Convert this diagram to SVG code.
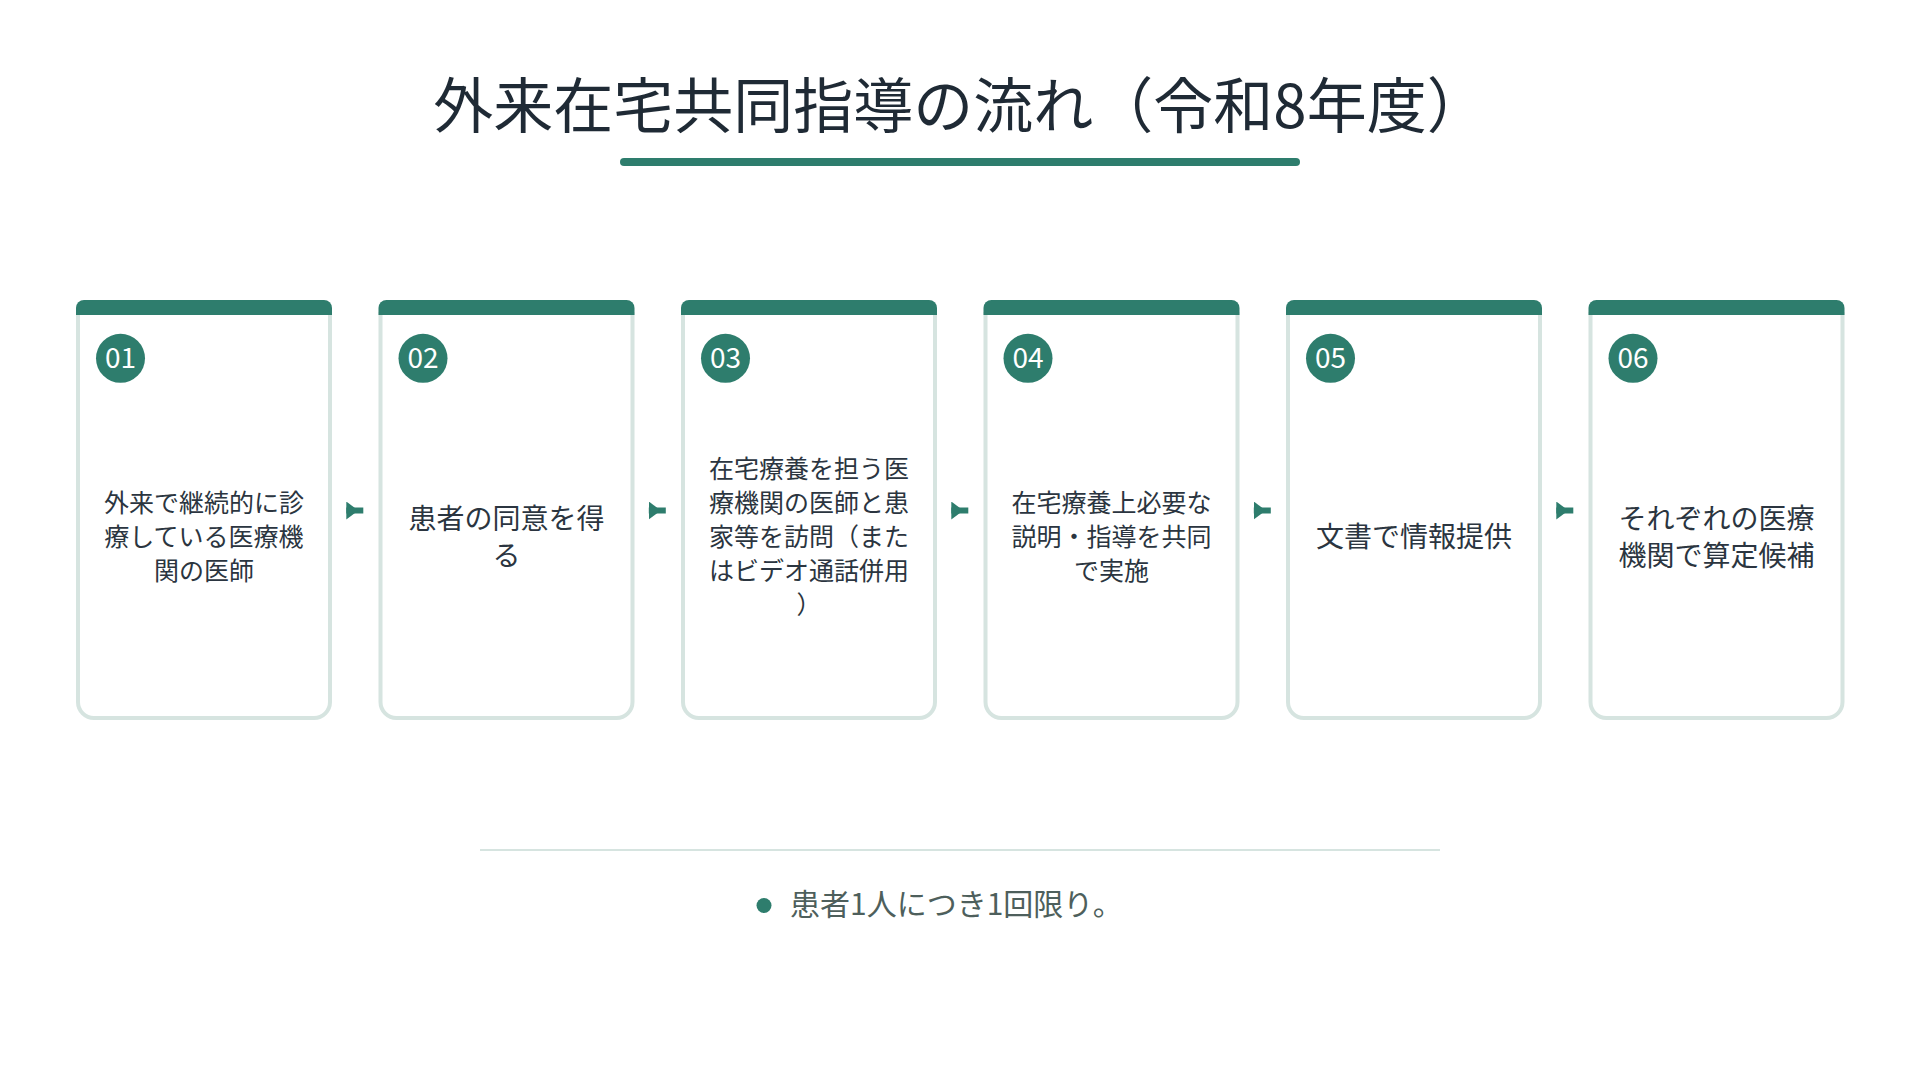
<svg xmlns="http://www.w3.org/2000/svg" width="1920" height="1080" viewBox="0 0 1920 1080">
<style>
  text { font-family: "Noto Sans CJK JP", "Noto Sans", sans-serif; }
  .title { font-size: 60px; fill: #1f2a35; text-anchor: middle; }
  .frame { fill: #ffffff; stroke: #d6e4e0; stroke-width: 4; }
  .bar { fill: #2e7d6d; }
  .badge { fill: #2e7d6d; }
  .num { font-size: 28px; fill: #ffffff; text-anchor: middle; }
  .body { font-size: 25px; fill: #2b3540; text-anchor: middle; }
  .bodyL { font-size: 28px; fill: #2b3540; text-anchor: middle; }
  .conn { stroke: #2e7d6d; stroke-width: 6; fill: none; }
  .note { font-size: 30px; fill: #4e5f5c; }
</style>
<defs>
  <marker id="tri" markerUnits="userSpaceOnUse" viewBox="0 0 12 18" refX="0" refY="9" markerWidth="12" markerHeight="18" orient="auto">
    <path d="M0,0 L12,9 L0,18 Z" fill="#2e7d6d"/>
  </marker>
  <g id="card">
    <path class="frame" d="M2,312 V702 A16,16 0 0 0 18,718 H238 A16,16 0 0 0 254,702 V312"/>
    <path class="bar" d="M0,315 V308 A8,8 0 0 1 8,300 H248 A8,8 0 0 1 256,308 V315 Z"/>
    <circle class="badge" cx="44.5" cy="358.3" r="24.5"/>
  </g>
</defs>
<rect width="1920" height="1080" fill="#ffffff"/>

<g id="title">
  <text class="title" x="960" y="128">外来在宅共同指導の流れ（令和8年度）</text>
  <rect x="620" y="158" width="680" height="8" rx="4" fill="#2e7d6d"/>
</g>

<g id="step-01" transform="translate(76,0)">
  <use href="#card"/>
  <text class="num" x="44.5" y="367.5">01</text>
  <text class="body" x="128" y="511.5">外来で継続的に診</text>
  <text class="body" x="128" y="545.5">療している医療機</text>
  <text class="body" x="128" y="579.5">関の医師</text>
</g>

<g id="step-02" transform="translate(378.5,0)">
  <use href="#card"/>
  <text class="num" x="44.5" y="367.5">02</text>
  <text class="bodyL" x="128" y="528.5">患者の同意を得</text>
  <text class="bodyL" x="128" y="566.3">る</text>
</g>

<g id="step-03" transform="translate(681,0)">
  <use href="#card"/>
  <text class="num" x="44.5" y="367.5">03</text>
  <text class="body" x="128" y="477.5">在宅療養を担う医</text>
  <text class="body" x="128" y="511.5">療機関の医師と患</text>
  <text class="body" x="128" y="545.5">家等を訪問（また</text>
  <text class="body" x="128" y="579.5">はビデオ通話併用</text>
  <text class="body" x="128" y="613.5">）</text>
</g>

<g id="step-04" transform="translate(983.5,0)">
  <use href="#card"/>
  <text class="num" x="44.5" y="367.5">04</text>
  <text class="body" x="128" y="511.5">在宅療養上必要な</text>
  <text class="body" x="128" y="545.5">説明・指導を共同</text>
  <text class="body" x="128" y="579.5">で実施</text>
</g>

<g id="step-05" transform="translate(1286,0)">
  <use href="#card"/>
  <text class="num" x="44.5" y="367.5">05</text>
  <text class="bodyL" x="128" y="547">文書で情報提供</text>
</g>

<g id="step-06" transform="translate(1588.5,0)">
  <use href="#card"/>
  <text class="num" x="44.5" y="367.5">06</text>
  <text class="bodyL" x="128" y="528.5">それぞれの医療</text>
  <text class="bodyL" x="128" y="566.3">機関で算定候補</text>
</g>

<g id="connectors">
  <path class="conn" marker-start="url(#tri)" d="M346.3,510.5 H363.3"/>
  <path class="conn" marker-start="url(#tri)" d="M648.8,510.5 H665.8"/>
  <path class="conn" marker-start="url(#tri)" d="M951.3,510.5 H968.3"/>
  <path class="conn" marker-start="url(#tri)" d="M1253.8,510.5 H1270.8"/>
  <path class="conn" marker-start="url(#tri)" d="M1556.3,510.5 H1573.3"/>
</g>

<g id="note">
  <line x1="480" y1="850" x2="1440" y2="850" stroke="#d6e4e0" stroke-width="2"/>
  <circle cx="764" cy="905.5" r="7.5" fill="#2e7d6d"/>
  <text class="note" x="790" y="915">患者1人につき1回限り。</text>
</g>
</svg>
